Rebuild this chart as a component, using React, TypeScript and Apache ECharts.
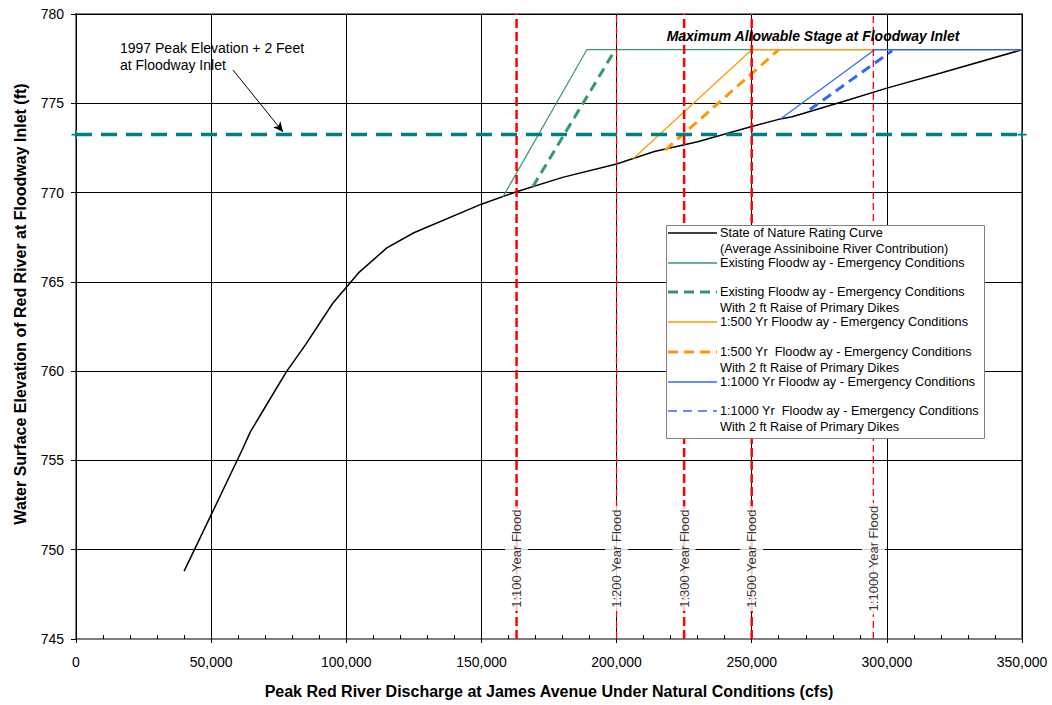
import React, { useEffect, useRef } from "react";
import * as echarts from "echarts";

// ---------- data ----------
const ratingQ = [40000, 50000, 61500, 64500, 74000, 78000, 85000, 95000, 104500, 115000, 125000, 150000, 163000, 180000, 200000, 205000, 214000, 230000, 250000, 260000, 265000, 286000, 300000, 320000, 350000];
const ratingH = [748.8, 751.95, 755.6, 756.6, 759.0, 760.0, 761.5, 763.8, 765.5, 766.9, 767.75, 769.35, 770.05, 770.85, 771.6, 771.85, 772.3, 772.85, 773.7, 774.1, 774.25, 775.2, 775.85, 776.7, 778.0];

const existingQ = [158000, 189000, 350000];
const existingH = [769.77, 778, 778];
const existingRaiseQ = [169000, 199500];
const existingRaiseH = [770.33, 778];
const fw500Q = [206000, 250000, 350000];
const fw500H = [771.88, 778, 778];
const fw500RaiseQ = [218000, 260000];
const fw500RaiseH = [772.38, 778];
const fw1000Q = [260500, 295500, 350000];
const fw1000H = [774.1, 778, 778];
const fw1000RaiseQ = [271500, 302000];
const fw1000RaiseH = [774.65, 777.95];

const peakPlus2 = 773.25;
const floodQ = [163000, 200000, 225000, 250000, 295000];
const floodLabels = ["1:100 Year Flood", "1:200 Year Flood", "1:300 Year Flood", "1:500 Year Flood", "1:1000 Year Flood"];
const floodLabelElev = 749.5;
const arrowFrom = [58100, 776.86];
const arrowTo = [76600, 773.39];

const xTicks = [0, 50000, 100000, 150000, 200000, 250000, 300000, 350000];
const yTicks = [745, 750, 755, 760, 765, 770, 775, 780];

const seriesNames = [
  "State of Nature Rating Curve\n(Average Assiniboine River Contribution)",
  "Existing Floodw ay - Emergency Conditions",
  "Existing Floodw ay - Emergency Conditions\nWith 2 ft Raise of Primary Dikes",
  "1:500 Yr Floodw ay - Emergency Conditions",
  "1:500 Yr  Floodw ay - Emergency Conditions\nWith 2 ft Raise of Primary Dikes",
  "1:1000 Yr Floodw ay - Emergency Conditions",
  "1:1000 Yr  Floodw ay - Emergency Conditions\nWith 2 ft Raise of Primary Dikes",
];

const FONT = '"Liberation Sans", Arial, sans-serif';
const zip = (a: number[], b: number[]) => a.map((v, i) => [v, b[i]]);
const fmt = (v: number) => String(v).replace(/\B(?=(\d{3})+(?!\d))/g, ",");

export default function App() {
  const ref = useRef<HTMLDivElement>(null);
  useEffect(() => {
    if (!ref.current) return;
    const chart = echarts.init(ref.current, null, { renderer: "svg" });

    const lineStyles = [
      { color: "#000000", width: 1.5, type: "solid" },
      { color: "#339966", width: 1.2, type: "solid" },
      { color: "#339966", width: 3, type: [10, 6] },
      { color: "#FF9900", width: 1.2, type: "solid" },
      { color: "#FF9900", width: 3, type: [10, 6] },
      { color: "#3366FF", width: 1.2, type: "solid" },
      { color: "#3366FF", width: 3, type: [10, 6] },
    ];
    const legendStyles = [
      { color: "#000000", width: 1.5, dash: null },
      { color: "#339966", width: 1.5, dash: null },
      { color: "#339966", width: 3, dash: [10, 6] },
      { color: "#FF9900", width: 1.5, dash: null },
      { color: "#FF9900", width: 3, dash: [10, 6] },
      { color: "#3366FF", width: 1.5, dash: null },
      { color: "#3366FF", width: 1.5, dash: [9, 6] },
    ];
    const dataSets = [
      zip(ratingQ, ratingH),
      zip(existingQ, existingH),
      zip(existingRaiseQ, existingRaiseH),
      zip(fw500Q, fw500H),
      zip(fw500RaiseQ, fw500RaiseH),
      zip(fw1000Q, fw1000H),
      zip(fw1000RaiseQ, fw1000RaiseH),
    ];

    const mainSeries = dataSets.map((d, i) => ({
      type: "line",
      name: seriesNames[i],
      data: d,
      symbol: "none",
      lineStyle: lineStyles[i],
      z: 3,
      silent: true,
    }));

    const redSeries = floodQ.map((q, i) => {
      const thin = i === 1 || i === 4;
      return {
        type: "line",
        name: "flood" + i,
        data: [[q, 745], [q, 780]],
        symbol: "none",
        lineStyle: { color: "#FF0000", width: thin ? 1.3 : 2.5, type: thin ? [7, 4] : [9, 4] },
        z: 5,
        silent: true,
      };
    });

    const legendItems: any[] = [];
    legendItems.push({
      type: "rect",
      z: 100,
      shape: { x: 666.5, y: 225.5, width: 318, height: 213 },
      style: { fill: "#ffffff", stroke: "#808080", lineWidth: 1 },
    });
    seriesNames.forEach((n, i) => {
      const y = Math.round(233 + i * 29.7);
      const ls = legendStyles[i];
      legendItems.push({
        type: "line",
        z: 101,
        shape: { x1: 668, y1: y, x2: 717, y2: y },
        style: { stroke: ls.color, lineWidth: ls.width, lineDash: ls.dash || undefined },
      });
      legendItems.push({
        type: "text",
        z: 101,
        x: 720,
        y: y - 8,
        style: {
          text: n,
          font: `12.7px ${FONT}`,
          fill: "#000",
          lineHeight: 16,
          textAlign: "left",
          align: "left",
          textVerticalAlign: "top",
          verticalAlign: "top",
        },
      });
    });

    const option: any = {
      animation: false,
      backgroundColor: "#ffffff",
      grid: {
        left: 76,
        top: 14,
        right: 30,
        bottom: 66,
        show: true,
        borderColor: "#808080",
        borderWidth: 2,
        backgroundColor: "transparent",
      },
      xAxis: [
        {
          type: "value",
          min: xTicks[0],
          max: xTicks[xTicks.length - 1],
          interval: 50000,
          name: "Peak Red River Discharge at James Avenue Under Natural Conditions (cfs)",
          nameLocation: "middle",
          nameGap: 44,
          nameTextStyle: { fontFamily: FONT, fontSize: 16, fontWeight: "bold", color: "#000", verticalAlign: "top" },
          axisLine: { show: true, lineStyle: { color: "#808080", width: 2 } },
          axisTick: { show: true, length: 4, lineStyle: { color: "#000" } },
          axisLabel: { fontFamily: FONT, fontSize: 14, color: "#000", margin: 16, formatter: (v: number) => fmt(v) },
          splitLine: { show: true, lineStyle: { color: "#000", width: 1 } },
        },
        {
          type: "value",
          min: 0,
          max: 350000,
          interval: 10000,
          position: "bottom",
          axisLine: { show: false },
          axisTick: { show: true, inside: true, length: 4, lineStyle: { color: "#000" } },
          axisLabel: { show: false },
          splitLine: { show: false },
        },
      ],
      yAxis: {
        type: "value",
        min: yTicks[0],
        max: yTicks[yTicks.length - 1],
        interval: 5,
        axisLine: { show: true, lineStyle: { color: "#000", width: 1 } },
        axisTick: { show: true, length: 5, lineStyle: { color: "#000" } },
        axisLabel: { fontFamily: FONT, fontSize: 14, color: "#000", margin: 12 },
        splitLine: { show: true, lineStyle: { color: "#000", width: 1 } },
      },
      graphic: [
        {
          type: "text",
          x: 20,
          y: 304,
          rotation: Math.PI / 2,
          style: {
            text: "Water Surface Elevation of Red River at Floodway Inlet (ft)",
            font: `bold 16px ${FONT}`,
            fill: "#000",
            textAlign: "center",
            align: "center",
            textVerticalAlign: "middle",
            verticalAlign: "middle",
          },
        },
        {
          type: "text",
          x: 813,
          y: 36,
          z: 20,
          style: {
            text: "Maximum Allowable Stage at Floodway Inlet",
            font: `italic bold 14px ${FONT}`,
            fill: "#000",
            textAlign: "center",
            align: "center",
            textVerticalAlign: "middle",
            verticalAlign: "middle",
          },
        },
        {
          type: "text",
          x: 120,
          y: 39,
          z: 20,
          style: {
            text: "1997 Peak Elevation + 2 Feet\nat Floodway Inlet",
            font: `14px ${FONT}`,
            lineHeight: 17,
            fill: "#000",
            textAlign: "left",
            align: "left",
            textVerticalAlign: "top",
            verticalAlign: "top",
          },
        },
        ...legendItems,
      ],
      series: [
        ...mainSeries,
        {
          type: "line",
          name: "peak",
          data: [[0, peakPlus2], [350000, peakPlus2]],
          symbol: "path://M4,0h2v4h4v2h-4v4h-2v-4h-4v-2h4z",
          symbolSize: 9,
          showSymbol: true,
          itemStyle: { color: "#008080" },
          lineStyle: { color: "#008080", width: 3.5, type: [16, 9] },
          z: 4,
          silent: true,
          markLine: {
            silent: true,
            symbol: ["none", "arrow"],
            symbolSize: [7, 10],
            label: { show: false },
            lineStyle: { color: "#000", width: 1, type: "solid" },
            data: [[{ coord: arrowFrom }, { coord: arrowTo }]],
          },
        },
        ...redSeries,
        {
          type: "scatter",
          name: "floodLabels",
          data: floodQ.map((q, i) => ({ value: [q, floodLabelElev], name: floodLabels[i] })),
          symbolSize: 1,
          itemStyle: { color: "transparent" },
          z: 10,
          silent: true,
          label: {
            show: true,
            position: "inside",
            formatter: "{b}",
            rotate: 90,
            fontFamily: FONT,
            fontSize: 13,
            color: "#000",
            backgroundColor: "#ffffff",
            padding: [5, 3],
            align: "center",
            verticalAlign: "middle",
          },
        },
      ],
    };
    chart.setOption(option);
    return () => chart.dispose();
  }, []);
  return <div ref={ref} style={{ position: "fixed", left: 0, top: 0, width: 1052, height: 705 }} />;
}
